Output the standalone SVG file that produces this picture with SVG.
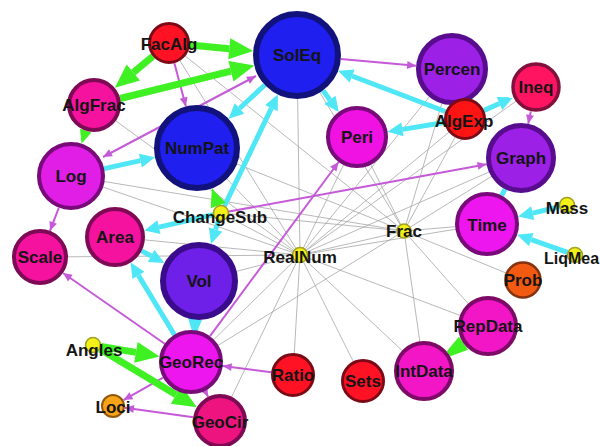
<svg xmlns="http://www.w3.org/2000/svg" width="600" height="446" viewBox="0 0 600 446">
  <style>
    .lbl{font-family:"Liberation Sans",Arial,sans-serif;font-weight:bold;font-size:17px;fill:#141414;text-anchor:middle}
    .gy{stroke:#a6a6a6;stroke-width:0.8;fill:none}
    .cy{stroke:#4fe6f6;stroke-width:5;fill:none;marker-end:url(#hc)}
    .gr{stroke:#3ff022;stroke-width:7;fill:none;marker-end:url(#hg)}
    .pu{stroke:#c55ad8;stroke-width:2;fill:none;marker-end:url(#hp)}
    .blue{fill:#1f1ff0;stroke:#12127c;stroke-width:6}
    .purp{fill:#9c20e6;stroke:#580c8e;stroke-width:5}
    .viol{fill:#6e20e8;stroke:#3a0c8c;stroke-width:6}
    .mag{fill:#ee16ee;stroke:#780a7a;stroke-width:4}
    .pink{fill:#f5129e;stroke:#7e0a56;stroke-width:4}
    .pmag{fill:#f216c6;stroke:#7c0a66;stroke-width:4}
    .red{fill:#ff1224;stroke:#7c0a16;stroke-width:3}
    .rose{fill:#ff1462;stroke:#82103c;stroke-width:3.5}
    .orng{fill:#f25a12;stroke:#843210;stroke-width:2.5}
    .gold{fill:#f8a418;stroke:#925810;stroke-width:2}
    .yel{fill:#f2f018;stroke:#a2a020;stroke-width:1.5}
  </style>
  <defs>
    <marker id="hc" markerUnits="userSpaceOnUse" markerWidth="15" markerHeight="14" refX="0" refY="7" orient="auto" overflow="visible">
      <path d="M0,0 L15,7 L0,14 z" fill="#4fe6f6"/>
    </marker>
    <marker id="hg" markerUnits="userSpaceOnUse" markerWidth="24" markerHeight="21" refX="0" refY="10.5" orient="auto" overflow="visible">
      <path d="M0,0 L24,10.5 L0,21 z" fill="#3ff022"/>
    </marker>
    <marker id="hp" markerUnits="userSpaceOnUse" markerWidth="9" markerHeight="8" refX="9" refY="4" orient="auto-start-reverse" overflow="visible">
      <path d="M0,0 L9,4 L0,8 z" fill="#c55ad8"/>
    </marker>
  </defs>

  <g id="connectors">
    <!-- thin grey links around RealNum and Frac -->
    <g id="links-grey" class="gy">
      <path d="M300,255 L297,55 M300,255 L197,148 M300,255 L94,105 M300,255 L71,176 M300,255 L40,257 M300,255 L115,237 M300,255 L199,281 M300,255 L221,213 M300,255 L191,362 M300,255 L220,421 M300,255 L293,375 M300,255 L363,381 M300,255 L424,371 M300,255 L488,326 M300,255 L487,224 M300,255 L521,158 M300,255 L536,87 M300,255 L465,119 M300,255 L452,69 M300,255 L357,137 M300,255 L404,231 M300,255 L169,43"/>
      <path d="M404,231 L169,43 M404,231 L71,176 M404,231 L197,148 M404,231 L297,55 M404,231 L357,137 M404,231 L452,69 M404,231 L465,119 M404,231 L521,158 M404,231 L487,224 M404,231 L523,280 M404,231 L488,326 M404,231 L424,371 M404,231 L191,362 M404,231 L221,213"/>
    </g>
    <!-- purple links -->
    <g id="links-purple">
      <path class="pu" d="M340.8,59 L416.1,65.8"/>
      <path class="pu" d="M174.4,63.3 L185.9,106.5"/>
      <path class="pu" d="M103,157 L256,76" marker-start="url(#hp)"/>
      <path class="pu" d="M530.8,111.5 L528.2,123.8"/>
      <path class="pu" d="M228.9,211.6 L486.6,164.3"/>
      <path class="pu" d="M210,336.2 L338.6,162"/>
      <path class="pu" d="M58.8,207.8 L50,230.8"/>
      <path class="pu" d="M164.7,343.7 L63,273"/>
      <path class="pu" d="M163.1,377.7 L123.5,400.1"/>
      <path class="pu" d="M193.3,417.2 L124.9,407.7"/>
      <path class="pu" d="M203,387 L208.1,396.8"/>
      <path class="pu" d="M271.2,372.2 L222.7,366"/>
    </g>
    <!-- cyan links -->
    <g id="links-cyan">
      <path class="cy" d="M264.8,85 L239.5,108.5"/>
      <path class="cy" d="M224.5,205.8 L271.4,108.1"/>
      <path class="cy" d="M323,90.5 L329.9,99.9"/>
      <path class="cy" d="M445.4,111.5 L352.1,76"/>
      <path class="cy" d="M444.3,122.5 L402.4,129.4"/>
      <path class="cy" d="M484.1,110.4 L499.5,103.5"/>
      <path class="cy" d="M104.2,168.6 L140.4,160.6"/>
      <path class="cy" d="M213.2,214.8 L158.9,227.1"/>
      <path class="cy" d="M218.5,220.6 L215.6,229.6"/>
      <path class="cy" d="M141.6,250.9 L151.1,255.9"/>
      <path class="cy" d="M174.4,334.7 L138.4,275.4"/>
      <path class="cy" d="M559.2,206.8 L532.7,213.1"/>
      <path class="cy" d="M567.5,252.3 L531.3,239.6"/>
      <path d="M505,189.1 L501.7,195.5" stroke="#4fe6f6" stroke-width="5"/>
      <polygon points="188,318 202,320 197,332 192,331" fill="#4fe6f6"/>
    </g>
    <!-- green links -->
    <g id="links-green">
      <path class="gr" d="M189.9,45 L229.3,48.7"/>
      <path class="gr" d="M120.2,98.5 L231,71.2"/>
      <path class="gr" d="M152.8,56.4 L133.3,72.5"/>
      <path class="gr" d="M100.9,346.4 L135.9,352.4"/>
      <path class="gr" d="M99.9,349.1 L176.2,394.8"/>
      <polygon points="91.4,132.5 80,128.8 81.5,143.7" fill="#3ff022"/>
      <polygon points="225.7,202.7 210.7,208.3 211.9,188.3" fill="#3ff022"/>
      <polygon points="446.8,351.2 450.2,356.2 468.1,349.8 458.9,336.8" fill="#3ff022"/>
    </g>
  </g>

  <g id="node-SolEq"><circle class="blue" cx="297" cy="55" r="41"/><text class="lbl" x="297" y="61">SolEq</text></g>
  <g id="node-NumPat"><circle class="blue" cx="197" cy="148" r="40"/><text class="lbl" x="197" y="154">NumPat</text></g>
  <g id="node-FacAlg"><circle class="red" cx="169" cy="43" r="19.5"/><text class="lbl" x="169" y="50">FacAlg</text></g>
  <g id="node-AlgFrac"><circle class="pink" cx="94" cy="105" r="25"/><text class="lbl" x="94" y="111">AlgFrac</text></g>
  <g id="node-Log"><circle class="mag" cx="71" cy="176" r="32" style="fill:#e01ee6"/><text class="lbl" x="71" y="182">Log</text></g>
  <g id="node-Scale"><circle class="pink" cx="40" cy="257" r="26"/><text class="lbl" x="40" y="263">Scale</text></g>
  <g id="node-Area"><circle class="pink" cx="115" cy="237" r="28"/><text class="lbl" x="115" y="243">Area</text></g>
  <g id="node-Vol"><circle class="viol" cx="199" cy="281" r="36"/><text class="lbl" x="199" y="287">Vol</text></g>
  <g id="node-GeoRec"><circle class="mag" cx="191" cy="362" r="30"/><text class="lbl" x="191" y="368">GeoRec</text></g>
  <g id="node-GeoCir"><circle class="pink" cx="220" cy="421" r="25" style="fill:#ee1480"/><text class="lbl" x="220" y="428">GeoCir</text></g>
  <g id="node-Loci"><circle class="gold" cx="113" cy="406" r="11"/><text class="lbl" x="113" y="413">Loci</text></g>
  <g id="node-Angles"><circle class="yel" cx="93" cy="345" r="7.5"/><text class="lbl" x="94" y="356">Angles</text></g>
  <g id="node-Ratio"><circle class="red" cx="293" cy="375" r="20.5"/><text class="lbl" x="293" y="381">Ratio</text></g>
  <g id="node-Sets"><circle class="red" cx="363" cy="381" r="20.5"/><text class="lbl" x="363" y="387">Sets</text></g>
  <g id="node-IntData"><circle class="pmag" cx="424" cy="371" r="28"/><text class="lbl" x="424" y="377">IntData</text></g>
  <g id="node-RepData"><circle class="pmag" cx="488" cy="326" r="28"/><text class="lbl" x="488" y="332">RepData</text></g>
  <g id="node-Prob"><circle class="orng" cx="523" cy="280" r="17.5"/><text class="lbl" x="523" y="286">Prob</text></g>
  <g id="node-Percen"><circle class="purp" cx="452" cy="69" r="33.5"/><text class="lbl" x="452" y="75">Percen</text></g>
  <g id="node-Graph"><circle class="purp" cx="521" cy="158" r="32.5"/><text class="lbl" x="521" y="164">Graph</text></g>
  <g id="node-Time"><circle class="mag" cx="487" cy="224" r="30"/><text class="lbl" x="487" y="231">Time</text></g>
  <g id="node-Mass"><circle class="yel" cx="567" cy="205" r="7.5"/><text class="lbl" x="567" y="214">Mass</text></g>
  <g id="node-LiqMea"><circle class="yel" cx="575" cy="255" r="7.5"/><text class="lbl" x="544" y="264" style="text-anchor:start;font-size:16px">LiqMea</text></g>
  <g id="node-Ineq"><circle class="rose" cx="536" cy="87" r="23"/><text class="lbl" x="536" y="93">Ineq</text></g>
  <g id="node-AlgExp"><circle class="red" cx="465" cy="119" r="19.5" style="fill:#ff1414"/><text class="lbl" x="464" y="127">AlgExp</text></g>
  <g id="node-Peri"><circle class="mag" cx="357" cy="137" r="29" style="fill:#f012e2"/><text class="lbl" x="357" y="143">Peri</text></g>
  <g id="node-ChangeSub"><circle class="yel" cx="221" cy="213" r="7.5"/><text class="lbl" x="220" y="223">ChangeSub</text></g>
  <g id="node-RealNum"><circle class="yel" cx="300" cy="255" r="7.5"/><text class="lbl" x="300" y="263">RealNum</text></g>
  <g id="node-Frac"><circle class="yel" cx="404" cy="231" r="7"/><text class="lbl" x="404" y="237">Frac</text></g>
</svg>
